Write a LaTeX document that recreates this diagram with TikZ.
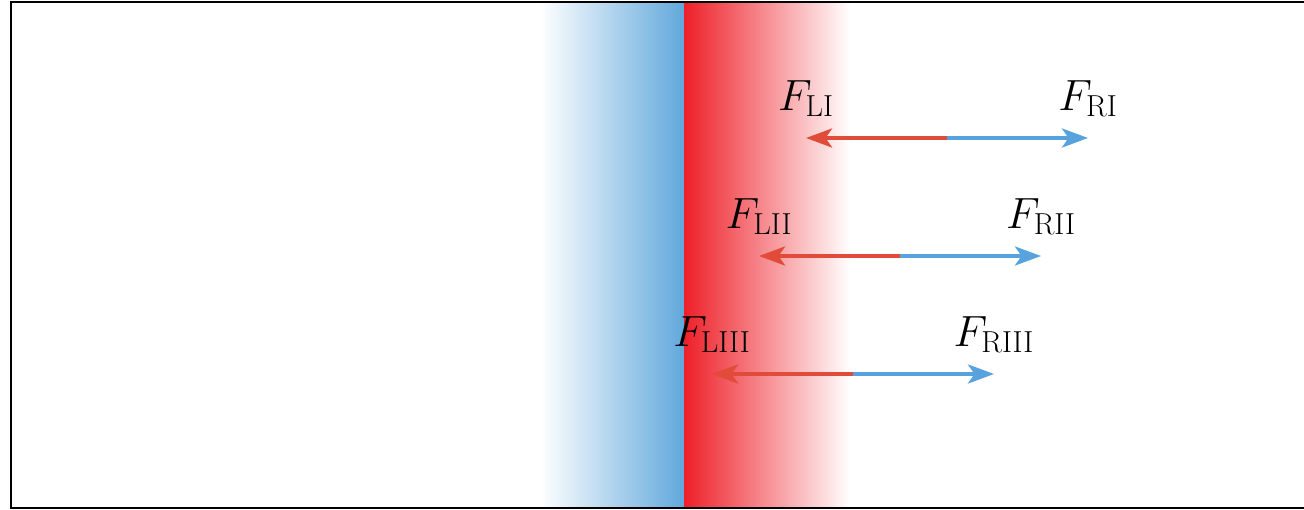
\documentclass[tikz,border=0pt]{standalone}
\usepackage{amsmath}
\usetikzlibrary{arrows.meta, positioning}

\definecolor{wallblue}{HTML}{62A8DC}
\definecolor{wallred}{HTML}{EE2029}
\definecolor{forcered}{HTML}{E04B3A}
\definecolor{forceblue}{HTML}{58A2DE}

\tikzset{
  force/.style={line width=2.2pt, -{Stealth[length=0.52cm, width=0.38cm, inset=0.13cm]}},
  flabel/.style={anchor=south, inner sep=0pt, yshift=0.42cm, font=\fontsize{27}{32}\selectfont},
}

\begin{document}
\begin{tikzpicture}[x=0.02cm, y=-0.02cm]
  \useasboundingbox (0,0) rectangle (1304,510);
  \clip (0,0) rectangle (1304,510);
  % wall: blue side fading left, red side fading right
  \shade[left color=white, right color=wallblue] (540,2) rectangle (684,508);
  \shade[left color=wallred, right color=white] (684,2) rectangle (850,508);
  % frame
  \draw[line width=1.3pt] (11,2) rectangle (1320,508);
  % force pairs
  \foreach \i/\name/\xm/\ym in {1/I/947/138, 2/II/900/256, 3/III/853/374} {
    \coordinate (m\i) at (\xm,\ym);
    \coordinate (l\i) at (\xm-141,\ym);
    \coordinate (r\i) at (\xm+141,\ym);
    \draw[force, forcered] (m\i) -- (l\i);
    \draw[force, forceblue] (m\i) -- (r\i);
    \node[flabel] (fl\i) at (l\i) {$F_{\mathrm{L\name}}$};
    \node[flabel] (fr\i) at (r\i) {$F_{\mathrm{R\name}}$};
  }
\end{tikzpicture}
\end{document}
